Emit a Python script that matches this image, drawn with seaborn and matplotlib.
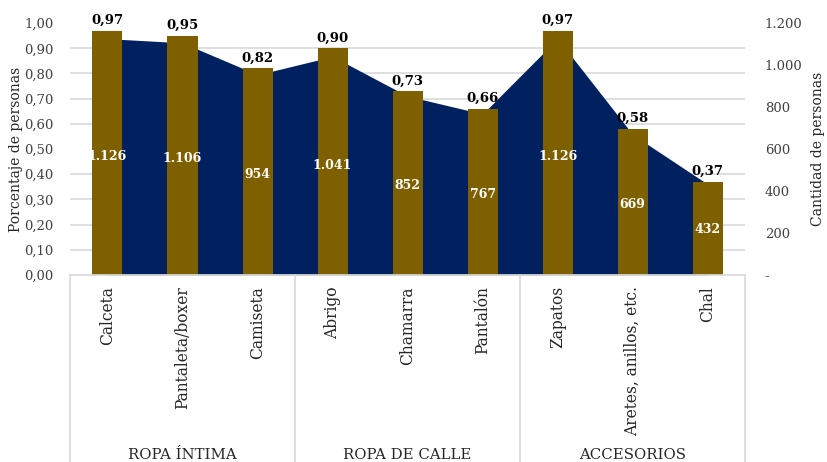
import numpy as np
import pandas as pd
import matplotlib
matplotlib.use("Agg")
import matplotlib.pyplot as plt
import matplotlib.transforms as mtransforms
from matplotlib.ticker import FuncFormatter, MultipleLocator
import seaborn as sns

# data
prendas = ["Calceta", "Pantaleta/boxer", "Camiseta", "Abrigo", "Chamarra",
           "Pantalón", "Zapatos", "Aretes, anillos, etc.", "Chal"]
grupos = ["ROPA ÍNTIMA", "ROPA DE CALLE", "ACCESORIOS"]
grupo_tam = [3, 3, 3]
porcentaje = [0.97, 0.95, 0.82, 0.90, 0.73, 0.66, 0.97, 0.58, 0.37]
cantidad = [1126, 1106, 954, 1041, 852, 767, 1126, 669, 432]

COLOR_BAR = "#7F6000"
COLOR_AREA = "#002060"
GRID = "#D9D9D9"

df = pd.DataFrame({"prenda": prendas, "porcentaje": porcentaje, "cantidad": cantidad})

sns.set_theme(style="white")
plt.rcParams["font.family"] = ["DejaVu Serif"]
plt.rcParams["font.size"] = 9.5

fig = plt.figure(figsize=(8.28, 4.62), dpi=100)
ax = fig.add_axes([0.0845, 0.405, 0.8155, 0.545])
ax2 = ax.twinx()

# bars (left axis) drawn on top of the area (right axis)
ax.set_zorder(ax2.get_zorder() + 1)
ax.patch.set_visible(False)

sns.barplot(data=df, x="prenda", y="porcentaje", color=COLOR_BAR, saturation=1,
            width=0.4, linewidth=0, edgecolor=COLOR_BAR, ax=ax)
ax.set_ylim(0, 1.0)
ax.set_xlim(-0.5, len(prendas) - 0.5)

xs = np.arange(len(prendas))
ax2.fill_between(xs, df["cantidad"], color=COLOR_AREA, linewidth=0, zorder=2)
ax2.set_ylim(0, 1200)
ax2.yaxis.set_major_locator(MultipleLocator(200))
# gridlines at the left-axis steps (0,10 -> 120 personas), behind the area
ax2.yaxis.set_minor_locator(MultipleLocator(120))
ax2.grid(which="minor", axis="y", color=GRID, linewidth=1.2, zorder=0)
ax2.grid(which="major", visible=False)
ax2.tick_params(which="minor", length=0)
ax2.set_axisbelow(True)

# labels
for i, (p, c) in enumerate(zip(porcentaje, cantidad)):
    ax.text(i, p + 0.015, f"{p:.2f}".replace(".", ","), ha="center", va="bottom",
            fontsize=9.5, fontweight="bold", color="black")
    ax.text(i, c / 2, f"{c:,}".replace(",", "."), transform=ax2.transData,
            ha="center", va="center", fontsize=9, fontweight="bold",
            color="white", zorder=5)

ax.yaxis.set_major_locator(MultipleLocator(0.1))
ax.yaxis.set_major_formatter(FuncFormatter(lambda v, _: f"{v:.2f}".replace(".", ",")))
ax2.yaxis.set_major_formatter(
    FuncFormatter(lambda v, _: "-" if abs(v) < 1e-9 else f"{int(round(v)):,}".replace(",", ".")))

ax.tick_params(axis="y", length=0, pad=12, labelsize=9.5, colors="#404040")
ax2.tick_params(axis="y", which="major", length=0, pad=14, labelsize=9.5, colors="#404040")
for lab in ax2.get_yticklabels():
    lab.set_horizontalalignment("left")

ax.set_ylabel("Porcentaje de personas", fontsize=10, color="#262626", labelpad=1)
ax2.set_ylabel("Cantidad de personas", fontsize=10, color="#262626")
ax2.yaxis.set_label_coords(1.097, 0.5)

ax.set_xlabel("")
ax.set_xticks(xs)
ax.set_xticklabels(prendas, rotation=90, va="top", ha="center", fontsize=11.2,
                   color="#262626")
ax.tick_params(axis="x", length=0, pad=8)

for a in (ax, ax2):
    for s in ("left", "right", "top"):
        a.spines[s].set_visible(False)
    a.spines["bottom"].set_color(GRID)
ax2.spines["bottom"].set_visible(False)

# group boxes under the axis
trans = mtransforms.blended_transform_factory(ax.transData, ax.transAxes)
edges = [-0.5]
for n in grupo_tam:
    edges.append(edges[-1] + n)
for xe in edges:
    ax.plot([xe, xe], [0, -0.75], transform=trans, color=GRID, linewidth=1.2,
            clip_on=False)
for g, a0, a1 in zip(grupos, edges[:-1], edges[1:]):
    ax.text((a0 + a1) / 2, -0.715, g, transform=trans, ha="center", va="center",
            fontsize=10.7, color="#262626")

fig.savefig("out.png", dpi=100)
